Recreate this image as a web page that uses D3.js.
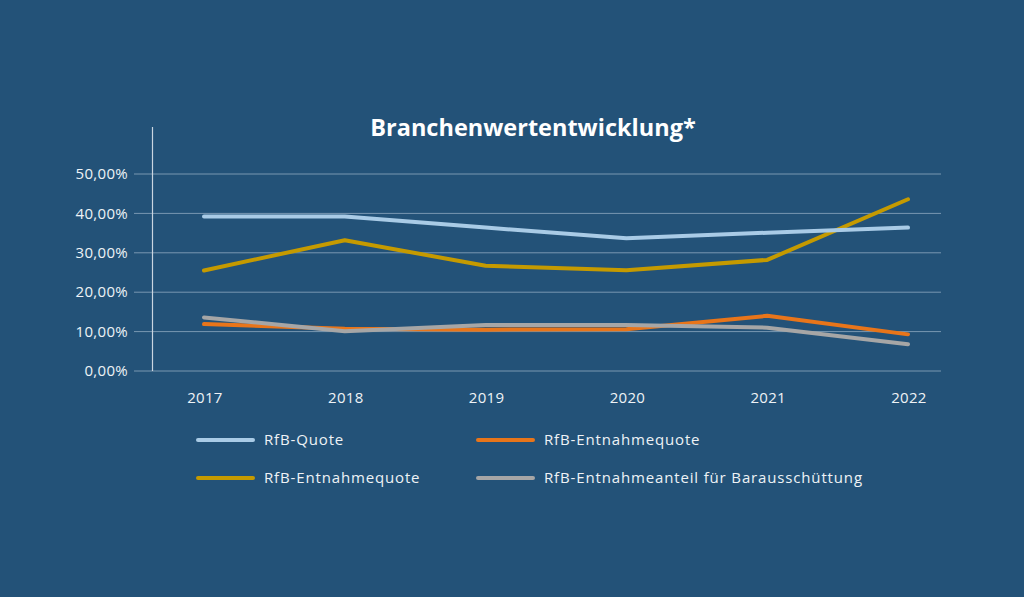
<!DOCTYPE html>
<html><head><meta charset="utf-8">
<script src="https://cdn.jsdelivr.net/npm/d3@7"></script>
<style>
html,body{margin:0;padding:0;background:#235278;}
svg{display:block;}
text{font-family:"Open Sans",Lato,sans-serif;}
</style></head>
<body><svg id="c" width="1024" height="597"></svg>
<script>
const years = ["2017","2018","2019","2020","2021","2022"];
const rfbQuote = [39.2, 39.2, 36.4, 33.7, 35.1, 36.4];
const entnahmeOrange = [11.9, 10.7, 10.5, 10.6, 14.0, 9.3];
const entnahmeGold = [25.5, 33.2, 26.7, 25.6, 28.2, 43.6];
const barausschuettung = [13.6, 10.1, 11.7, 11.7, 11.0, 6.8];
const yTicks = [0, 10, 20, 30, 40, 50];
const seriesNames = ["RfB-Quote", "RfB-Entnahmequote", "RfB-Entnahmequote", "RfB-Entnahmeanteil für Barausschüttung"];
const seriesColors = ["#a9cbe6", "#e8751a", "#c59a00", "#a6a6a6"];
const title = "Branchenwertentwicklung*";

const series = [rfbQuote, entnahmeOrange, entnahmeGold, barausschuettung];
const drawOrder = [2, 0, 1, 3];

const svg = d3.select("#c");
svg.append("rect").attr("width",1024).attr("height",597).attr("fill","#235278");

const x = d3.scalePoint().domain(years).range([204, 908]);
const y = d3.scaleLinear().domain([0, 50]).range([371, 174]);

// gridlines
svg.append("g").selectAll("line").data(yTicks).join("line")
  .attr("x1",134).attr("x2",941)
  .attr("y1",d=>y(d)).attr("y2",d=>y(d))
  .attr("stroke","#8fa9c0").attr("stroke-width",1).attr("opacity",0.8);
// y axis line
svg.append("line").attr("x1",152.5).attr("x2",152.5).attr("y1",127).attr("y2",371)
  .attr("stroke","#c9d5e0").attr("stroke-width",1.2);

const fmt = v => v.toFixed(2).replace(".", ",") + "%";
svg.append("g").selectAll("text").data(yTicks).join("text")
  .attr("x",128).attr("y",d=>y(d)).attr("dy","0.35em")
  .attr("text-anchor","end").attr("fill","#eef2f6").attr("font-size",15)
  .attr("letter-spacing",0.3)
  .text(fmt);

svg.append("g").selectAll("text").data(years).join("text")
  .attr("x",d=>x(d)+1).attr("y",398).attr("dy","0.35em")
  .attr("text-anchor","middle").attr("fill","#eef2f6").attr("font-size",15)
  .attr("letter-spacing",0.3)
  .text(d=>d);

const line = d3.line().x((d,i)=>x(years[i])).y(d=>y(d));
drawOrder.forEach(k=>{
  svg.append("path").datum(series[k]).attr("d",line)
    .attr("fill","none").attr("stroke",seriesColors[k]).attr("stroke-width",4)
    .attr("stroke-linejoin","round").attr("stroke-linecap","round");
});

svg.append("text").attr("x",533).attr("y",128).attr("dy","0.35em")
  .attr("text-anchor","middle").attr("fill","#ffffff").attr("font-size",23.5)
  .attr("font-weight","bold").text(title);

// legend
const legPos = [[196,440],[476,440],[196,478],[476,478]];
const leg = svg.append("g").selectAll("g").data(seriesNames).join("g")
  .attr("transform",(d,i)=>`translate(${legPos[i][0]},${legPos[i][1]})`);
leg.append("line").attr("x1",2).attr("x2",57).attr("y1",0).attr("y2",0)
  .attr("stroke",(d,i)=>seriesColors[i]).attr("stroke-width",4).attr("stroke-linecap","round");
leg.append("text").attr("x",68).attr("y",0).attr("dy","0.35em")
  .attr("fill","#eef2f6").attr("font-size",15).attr("letter-spacing",0.85).text(d=>d);
</script></body></html>
